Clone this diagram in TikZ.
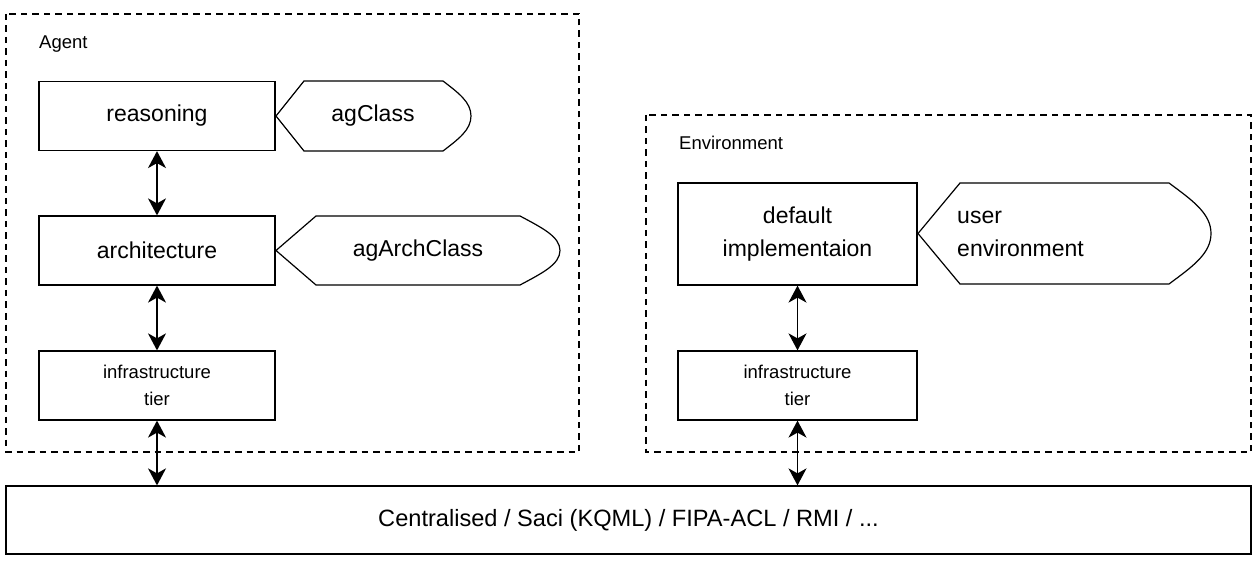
\documentclass[tikz,border=0pt]{standalone}
\usepackage{fontspec}
\setmainfont{Liberation Sans}
\usetikzlibrary{arrows.meta}
\tikzset{
  grp/.style={draw, line width=1.1pt, dash pattern=on 6.5pt off 5pt},
  blk/.style={draw, line width=1.2pt, minimum width=236pt, minimum height=69pt,
    inner sep=0pt, align=center, font=\fontsize{23}{33.5}\selectfont},
  small/.style={font=\fontsize{18.5}{27}\selectfont},
  lbl/.style={inner sep=0pt, font=\fontsize{18.5}{22}\selectfont},
  shp/.style={draw, line width=1.2pt, line join=miter},
  txt/.style={inner sep=0pt, align=left, font=\fontsize{23}{33.5}\selectfont},
  link/.style={line width=1.8pt,
    {Stealth[length=17pt,width=18pt,inset=5pt]}-{Stealth[length=17pt,width=18pt,inset=5pt]}}
}
% display shape: tip x, top y, right x, height, dx
\newcommand{\dispshape}[5]{%
  \draw[shp] (#1,#2+#4/2) -- (#1+#5,#2) -- (#3-#5,#2)
    .. controls (#3-0.45*#5,#2+0.17*#4) and (#3,#2+0.3*#4) .. (#3,#2+#4/2)
    .. controls (#3,#2+0.7*#4) and (#3-0.45*#5,#2+0.83*#4) .. (#3-#5,#2+#4)
    -- (#1+#5,#2+#4) -- cycle;}
\begin{document}
\begin{tikzpicture}[x=1pt,y=-1pt]
  \useasboundingbox (0,0) rectangle (1258,561);
  % groups
  \draw[grp] (6,14) rectangle (579,452);
  \draw[grp] (646,115) rectangle (1251,452);
  \node[lbl,anchor=base west] (agentlbl) at (39,49) {Agent};
  \node[lbl,anchor=base west] (envlbl) at (679,150) {Environment};
  % agent side
  \node[blk] (reasoning) at (157,116) {reasoning};
  \node[blk] (arch) at (157,250.5) {architecture};
  \node[blk,small] (ainfra) at (157,385.5) {infrastructure\\tier};
  \dispshape{276}{81}{471}{70}{28}
  \node[txt] (agclass) at (373,116) {agClass};
  \dispshape{276}{216}{560}{69}{40}
  \node[txt] (agarch) at (418,250.5) {agArchClass};
  % environment side
  \node[blk,minimum width=239pt,minimum height=102pt] (defimpl) at (797.5,234) {default\\implementaion};
  \node[blk,small,minimum width=239pt] (einfra) at (797.5,385.5) {infrastructure\\tier};
  \dispshape{918}{183}{1211}{101}{42}
  \node[txt,anchor=west] (userenv) at (957,234) {user\\environment};
  % bus
  \node[blk,minimum width=1245pt,minimum height=68pt,font=\fontsize{23.6}{30}\selectfont] (bus) at (628.5,520) {Centralised / Saci (KQML) / FIPA-ACL / RMI / ...};
  % links
  \draw[link] (reasoning) -- (arch);
  \draw[link] (arch) -- (ainfra);
  \draw[link] (ainfra.south) -- (ainfra.south |- bus.north);
  \draw[link] (defimpl) -- (einfra);
  \draw[link] (einfra.south) -- (einfra.south |- bus.north);
\end{tikzpicture}
\end{document}
